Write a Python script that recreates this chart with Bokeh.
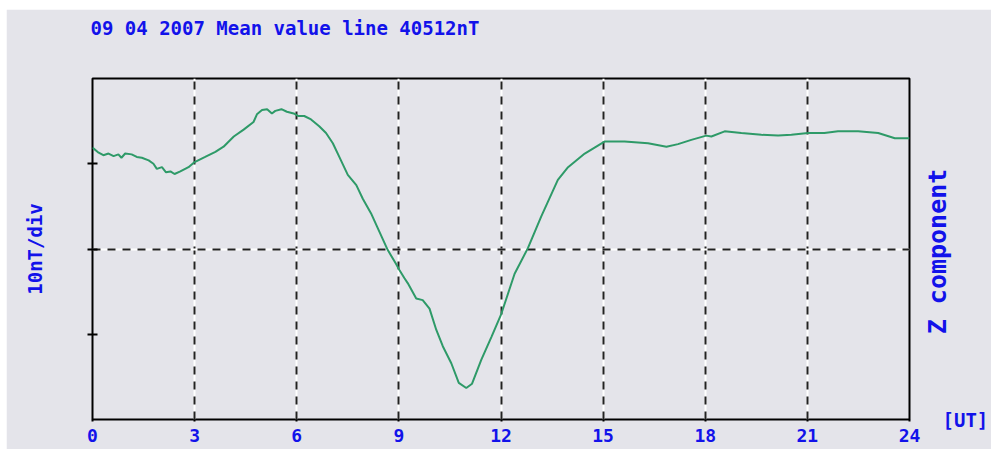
import math
from bokeh.plotting import figure
from bokeh.models import FixedTicker, Grid, Range1d, LinearAxis, Title, Spacer
from bokeh.layouts import column, row
from bokeh.embed import file_html
from bokeh.resources import INLINE

# ---- data (UT hours, nT relative to mean value line) ----
ut_hours = [0.00, 0.18, 0.32, 0.47, 0.62, 0.76, 0.85, 0.96, 1.15, 1.30, 1.45, 1.65,
            1.79, 1.89, 2.04, 2.16, 2.29, 2.41, 2.58, 2.82, 3.00, 3.31, 3.61, 3.85,
            4.15, 4.44, 4.73, 4.83, 4.98, 5.13, 5.27, 5.37, 5.55, 5.71, 5.91, 6.05,
            6.22, 6.42, 6.66, 6.86, 7.06, 7.25, 7.50, 7.75, 7.94, 8.18, 8.43, 8.67,
            8.91, 9.02, 9.16, 9.26, 9.51, 9.70, 9.90, 10.10, 10.29, 10.54, 10.76, 10.98,
            11.15, 11.42, 11.72, 12.01, 12.40, 12.79, 13.18, 13.67, 13.97, 14.46, 15.04, 15.34,
            15.63, 16.32, 16.86, 17.20, 17.59, 18.03, 18.18, 18.57, 19.06, 19.65, 20.14, 20.53,
            21.02, 21.50, 21.90, 22.49, 23.08, 23.57, 24.00]
z_nT = [11.9, 11.3, 11.0, 11.2, 10.9, 11.1, 10.7, 11.2, 11.1, 10.8, 10.7, 10.4,
        10.0, 9.4, 9.6, 9.0, 9.1, 8.8, 9.1, 9.6, 10.2, 10.8, 11.4, 12.0,
        13.2, 14.0, 14.9, 15.8, 16.3, 16.4, 15.9, 16.2, 16.4, 16.1, 15.9, 15.6,
        15.6, 15.2, 14.4, 13.6, 12.4, 10.8, 8.7, 7.5, 5.9, 4.2, 2.0, -0.1,
        -1.7, -2.5, -3.4, -4.0, -5.8, -6.0, -7.0, -9.5, -11.4, -13.4, -15.7, -16.3,
        -15.8, -13.0, -10.3, -7.6, -2.9, 0.1, 3.8, 8.1, 9.6, 11.2, 12.6, 12.6,
        12.6, 12.4, 12.0, 12.3, 12.8, 13.3, 13.2, 13.8, 13.6, 13.4, 13.3, 13.4,
        13.6, 13.6, 13.8, 13.8, 13.6, 13.0, 13.0]

x_ticks = [0, 3, 6, 9, 12, 15, 18, 21, 24]
x_grid = [3, 6, 9, 12, 15, 18, 21]
y_ticks = [-10, 0, 10]
y_grid = [0]

title_text = "09 04 2007 Mean value line 40512nT"
left_text = "10nT/div"
right_text = "Z component"
unit_text = "[UT]"

BG = "#e4e4ea"
BLUE = "#1212ea"
GREEN = "#2e9a68"
FONT = "DejaVu Sans Mono"

p = figure(frame_width=817, frame_height=341, output_backend="svg", toolbar_location=None,
           x_range=Range1d(0, 24), y_range=Range1d(-20, 20),
           min_border_left=86, min_border_right=80, min_border_top=69, min_border_bottom=30)
p.background_fill_color = BG
p.border_fill_color = BG
p.outline_line_color = "black"
p.outline_line_width = 2

p.title = Title(text=title_text + "\n", align="left", offset=-2, standoff=13,
                vertical_align="top", text_line_height=1.4,
                text_font=FONT, text_font_style="bold", text_font_size="19px",
                text_color=BLUE)

p.xgrid.visible = False
p.ygrid.visible = False

xa = p.xaxis[0]
xa.ticker = FixedTicker(ticks=x_ticks)
xa.axis_line_color = None
xa.major_tick_out = 2
xa.major_tick_in = 0
xa.major_tick_line_width = 2
xa.major_tick_line_color = "black"
xa.minor_tick_line_color = None
xa.major_label_standoff = 7
xa.major_label_text_font = FONT
xa.major_label_text_font_style = "bold"
xa.major_label_text_font_size = "18px"
xa.major_label_text_color = BLUE

ya = p.yaxis[0]
ya.ticker = FixedTicker(ticks=y_ticks)
ya.axis_line_color = None
ya.major_tick_out = 5
ya.major_tick_in = 5
ya.major_tick_line_width = 2
ya.major_tick_line_color = "black"
ya.minor_tick_line_color = None
ya.major_label_text_font_size = "0px"
ya.major_label_overrides = {t: "" for t in y_ticks}
ya.major_label_standoff = 0
ya.axis_label = left_text
ya.axis_label_standoff = 42
ya.axis_label_text_font = FONT
ya.axis_label_text_font_style = "bold"
ya.axis_label_text_font_size = "19px"
ya.axis_label_text_color = BLUE

# right side: rotated component name (nearest the frame) ...
za = LinearAxis(ticker=FixedTicker(ticks=[-10]))
za.major_label_overrides = {-10: right_text}
za.major_label_orientation = math.pi / 2
za.axis_line_color = None
za.major_tick_line_color = None
za.minor_tick_line_color = None
za.major_tick_out = 0
za.major_tick_in = 0
za.major_label_standoff = 28
za.major_label_text_font = FONT
za.major_label_text_font_style = "bold"
za.major_label_text_font_size = "25px"
za.major_label_text_color = BLUE
p.add_layout(za, "right")

# ... and the time unit at the bottom right
ra = LinearAxis(ticker=FixedTicker(ticks=[-20]))
ra.major_label_overrides = {-20: unit_text}
ra.axis_line_color = None
ra.major_tick_line_color = None
ra.minor_tick_line_color = None
ra.major_tick_out = 0
ra.major_tick_in = 0
ra.major_label_standoff = -27
ra.major_label_text_font = FONT
ra.major_label_text_font_style = "bold"
ra.major_label_text_font_size = "19px"
ra.major_label_text_color = BLUE
p.add_layout(ra, "right")

# white solid under-lines, black dashes on top
for dim, ticks in ((0, x_grid), (1, y_grid)):
    p.add_layout(Grid(dimension=dim, ticker=FixedTicker(ticks=ticks),
                      grid_line_color="white", grid_line_width=2))
    p.add_layout(Grid(dimension=dim, ticker=FixedTicker(ticks=ticks),
                      grid_line_color="#222222", grid_line_width=2,
                      grid_line_dash="8 7"))

p.line(ut_hours, z_nT, line_color=GREEN, line_width=2)

layout = column(Spacer(height=9), row(Spacer(width=6), p))
open("out.html", "w").write(file_html(layout, INLINE))
